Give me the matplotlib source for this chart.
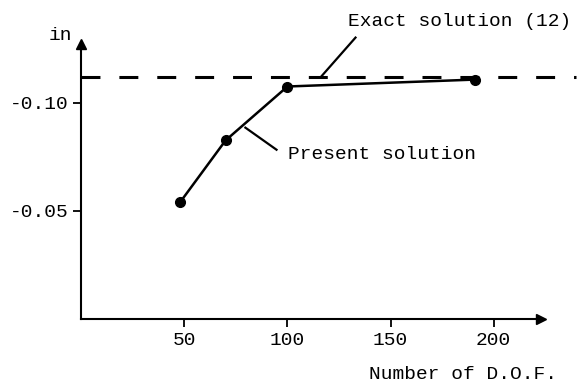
import matplotlib.pyplot as plt

# Data
dof = [48, 70, 100, 191]
deflection = [-0.054, -0.0825, -0.1074, -0.1106]
exact_value = -0.1116
exact_span = [0, 240]

x_ticks = [50, 100, 150, 200]
y_ticks = [-0.10, -0.05]
y_tick_labels = ["-0.10", "-0.05"]

# leader lines (x, y) for the two labels
exact_leader = ([116, 133], [exact_value, -0.130])
present_leader = ([79.6, 94.7], [-0.0884, -0.0782])

plt.rcParams['font.family'] = ['Liberation Mono', 'DejaVu Sans Mono']

fig = plt.figure(figsize=(5.8, 3.9), dpi=100)
ax = fig.add_axes([0.14, 0.182, 0.793, 0.705])

# exact solution (dashed) and present solution
ax.plot(exact_span, [exact_value, exact_value], color='black', lw=2.2,
        dashes=(6.2, 6.2), clip_on=False)
ax.plot(dof, deflection, color='black', lw=1.8, marker='o', ms=7)

ax.set_xlim(0, 223)
ax.set_ylim(0, -0.127)

ax.set_xticks(x_ticks)
ax.set_yticks(y_ticks)
ax.set_yticklabels(y_tick_labels)
ax.tick_params(direction='out', length=6, width=1.3, labelsize=14, pad=3)

for s in ['top', 'right']:
    ax.spines[s].set_visible(False)
for s in ['left', 'bottom']:
    ax.spines[s].set_linewidth(1.5)

# axis arrow heads
ax.plot(1, 0, '>', color='black', ms=7, transform=ax.transAxes, clip_on=False)
ax.plot(0, 1, '^', color='black', ms=7, transform=ax.transAxes, clip_on=False)

# labels
ax.text(-0.02, 1.0, "in", transform=ax.transAxes, fontsize=14,
        ha='right', va='bottom')
fig.text(0.96, 0.04, "Number of D.O.F.", fontsize=14, ha='right', va='center')

# leader lines and annotations
ax.plot(*exact_leader, color='black', lw=1.6, clip_on=False)
ax.text(129.5, -0.1375, "Exact solution (12)", fontsize=14,
        ha='left', va='center', clip_on=False)
ax.plot(*present_leader, color='black', lw=1.6)
ax.text(100.5, -0.0759, "Present solution", fontsize=14,
        ha='left', va='center')

fig.savefig("out.png", dpi=100)
